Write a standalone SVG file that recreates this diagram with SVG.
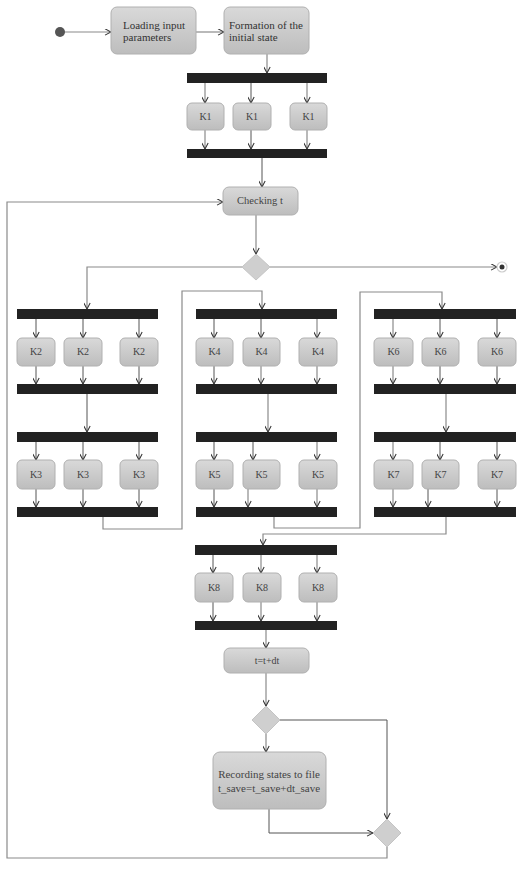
<svg xmlns="http://www.w3.org/2000/svg" width="525" height="872" viewBox="0 0 525 872">
<style>
.node{fill:url(#g);stroke:#b0b0b0;stroke-width:1}
.bar{fill:#222}
.t{font-family:"Liberation Serif","Times New Roman",serif;font-size:11px;fill:#333}
.k{font-family:"Liberation Serif","Times New Roman",serif;font-size:10px;fill:#444;text-anchor:middle}
.c{fill:none;stroke:#8a8a8a;stroke-width:1.2}
.cd{fill:none;stroke:#555;stroke-width:1}
.dia{fill:#cfcfcf;stroke:#c4c4c4}
</style>
<defs>
<linearGradient id="g" x1="0" y1="0" x2="0" y2="1">
<stop offset="0" stop-color="#d9d9d9"/>
<stop offset="1" stop-color="#bdbdbd"/>
</linearGradient>
<marker id="a" viewBox="0 0 10 10" refX="9.5" refY="5" markerWidth="7" markerHeight="7" markerUnits="userSpaceOnUse" orient="auto">
<path d="M1,0.5 L9.5,5 L1,9.5" fill="none" stroke="#333" stroke-width="1.5"/>
</marker>
</defs>
<rect width="525" height="872" fill="#fff"/>

<g id="connectors">
<path class="c" d="M60,32 H111" marker-end="url(#a)"/>
<path class="c" d="M196,32 H224" marker-end="url(#a)"/>
<path class="c" d="M267,54 V73" marker-end="url(#a)"/>
<path class="c" d="M205,83 V103" marker-end="url(#a)"/>
<path class="cd" d="M251,83 V103" marker-end="url(#a)"/>
<path class="c" d="M307,83 V103" marker-end="url(#a)"/>
<path class="c" d="M205,130 V149" marker-end="url(#a)"/>
<path class="cd" d="M251,130 V149" marker-end="url(#a)"/>
<path class="c" d="M307,130 V149" marker-end="url(#a)"/>
<path class="cd" d="M262,158 V187" marker-end="url(#a)"/>
<path class="c" d="M256,215 V254" marker-end="url(#a)"/>
<path class="c" d="M242,267 H87 V309" marker-end="url(#a)"/>
<path class="c" d="M270,267 H497" marker-end="url(#a)"/>
<!-- K2 -->
<path class="cd" d="M36,319 V338" marker-end="url(#a)"/>
<path class="cd" d="M83,319 V338" marker-end="url(#a)"/>
<path class="cd" d="M139,319 V338" marker-end="url(#a)"/>
<path class="cd" d="M36,366 V384" marker-end="url(#a)"/>
<path class="cd" d="M83,366 V384" marker-end="url(#a)"/>
<path class="cd" d="M139,366 V384" marker-end="url(#a)"/>
<path class="cd" d="M87,394 V432" marker-end="url(#a)"/>
<!-- K3 -->
<path class="cd" d="M36,442 V460" marker-end="url(#a)"/>
<path class="cd" d="M83,442 V460" marker-end="url(#a)"/>
<path class="cd" d="M139,442 V460" marker-end="url(#a)"/>
<path class="cd" d="M36,489 V507" marker-end="url(#a)"/>
<path class="cd" d="M83,489 V507" marker-end="url(#a)"/>
<path class="cd" d="M139,489 V507" marker-end="url(#a)"/>
<path class="c" d="M103,517 V529 H182 V291 H262 V309" marker-end="url(#a)"/>
<!-- K4 -->
<path class="cd" d="M214,319 V338" marker-end="url(#a)"/>
<path class="cd" d="M261,319 V338" marker-end="url(#a)"/>
<path class="c" d="M317,319 V338" marker-end="url(#a)"/>
<path class="cd" d="M214,366 V384" marker-end="url(#a)"/>
<path class="c" d="M261,366 V384" marker-end="url(#a)"/>
<path class="c" d="M317,366 V384" marker-end="url(#a)"/>
<path class="c" d="M268,394 V432" marker-end="url(#a)"/>
<!-- K5 -->
<path class="cd" d="M214,442 V460" marker-end="url(#a)"/>
<path class="cd" d="M253,442 V460" marker-end="url(#a)"/>
<path class="c" d="M317,442 V460" marker-end="url(#a)"/>
<path class="cd" d="M214,489 V507" marker-end="url(#a)"/>
<path class="c" d="M248,489 V507" marker-end="url(#a)"/>
<path class="c" d="M317,489 V507" marker-end="url(#a)"/>
<path class="c" d="M274,517 V528 H360 V292 H442 V309" marker-end="url(#a)"/>
<!-- K6 -->
<path class="c" d="M393,319 V338" marker-end="url(#a)"/>
<path class="cd" d="M440,319 V338" marker-end="url(#a)"/>
<path class="cd" d="M497,319 V338" marker-end="url(#a)"/>
<path class="c" d="M393,366 V384" marker-end="url(#a)"/>
<path class="cd" d="M440,366 V384" marker-end="url(#a)"/>
<path class="cd" d="M497,366 V384" marker-end="url(#a)"/>
<path class="c" d="M446,394 V432" marker-end="url(#a)"/>
<!-- K7 -->
<path class="c" d="M393,442 V460" marker-end="url(#a)"/>
<path class="cd" d="M440,442 V460" marker-end="url(#a)"/>
<path class="cd" d="M497,442 V460" marker-end="url(#a)"/>
<path class="c" d="M393,489 V507" marker-end="url(#a)"/>
<path class="cd" d="M428,489 V507" marker-end="url(#a)"/>
<path class="cd" d="M497,489 V507" marker-end="url(#a)"/>
<path class="c" d="M446,517 V534 H263 V545" marker-end="url(#a)"/>
<!-- K8 -->
<path class="cd" d="M213,555 V573" marker-end="url(#a)"/>
<path class="c" d="M261,555 V573" marker-end="url(#a)"/>
<path class="c" d="M317,555 V573" marker-end="url(#a)"/>
<path class="cd" d="M213,602 V621" marker-end="url(#a)"/>
<path class="c" d="M261,602 V621" marker-end="url(#a)"/>
<path class="c" d="M317,602 V621" marker-end="url(#a)"/>
<path class="c" d="M266,630 V648" marker-end="url(#a)"/>
<path class="c" d="M266,673 V706" marker-end="url(#a)"/>
<path class="c" d="M266,734 V752" marker-end="url(#a)"/>
<path class="cd" d="M280,720 H387 V819" marker-end="url(#a)"/>
<path class="cd" d="M269,809 V833 H373" marker-end="url(#a)"/>
<path class="c" d="M387,847 V858 H7 V202 H223" marker-end="url(#a)"/>
</g>

<g id="start"><circle cx="60" cy="32" r="5" fill="#555"/></g>
<g id="end"><circle cx="502" cy="267" r="5" fill="#fff" stroke="#ccc" stroke-width="1.2"/><circle cx="502" cy="267" r="2.5" fill="#333"/></g>

<g id="loading">
<rect class="node" x="111" y="7" width="85" height="47" rx="6"/>
<text class="t" x="123" y="29">Loading input</text>
<text class="t" x="123" y="41">parameters</text>
</g>
<g id="formation">
<rect class="node" x="224" y="7" width="85" height="47" rx="6"/>
<text class="t" x="229" y="29">Formation of the</text>
<text class="t" x="229" y="41">initial state</text>
</g>

<g id="fork-k1">
<rect class="bar" x="187" y="73" width="140" height="10"/>
<rect class="node" x="187" y="103" width="37" height="27" rx="5"/><text class="k" x="205.5" y="120">K1</text>
<rect class="node" x="233" y="103" width="38" height="27" rx="5"/><text class="k" x="252" y="120">K1</text>
<rect class="node" x="290" y="103" width="37" height="27" rx="5"/><text class="k" x="308.5" y="120">K1</text>
<rect class="bar" x="187" y="149" width="140" height="9"/>
</g>

<g id="checking">
<rect class="node" x="223" y="187" width="75" height="28" rx="6"/>
<text class="k" x="260" y="204" style="font-size:10.5px">Checking t</text>
</g>
<g id="decision1"><polygon class="dia" points="256,254 270,267 256,280 242,267"/></g>

<g id="fork-k2">
<rect class="bar" x="17" y="309" width="141" height="10"/>
<rect class="node" x="17" y="338" width="38" height="28" rx="5"/><text class="k" x="36" y="355">K2</text>
<rect class="node" x="64" y="338" width="38" height="28" rx="5"/><text class="k" x="83" y="355">K2</text>
<rect class="node" x="120" y="338" width="38" height="28" rx="5"/><text class="k" x="139" y="355">K2</text>
<rect class="bar" x="17" y="384" width="141" height="10"/>
</g>
<g id="fork-k3">
<rect class="bar" x="17" y="432" width="141" height="10"/>
<rect class="node" x="17" y="460" width="38" height="29" rx="5"/><text class="k" x="36" y="478">K3</text>
<rect class="node" x="64" y="460" width="38" height="29" rx="5"/><text class="k" x="83" y="478">K3</text>
<rect class="node" x="120" y="460" width="38" height="29" rx="5"/><text class="k" x="139" y="478">K3</text>
<rect class="bar" x="17" y="507" width="141" height="10"/>
</g>
<g id="fork-k4">
<rect class="bar" x="196" y="309" width="141" height="10"/>
<rect class="node" x="196" y="338" width="37" height="28" rx="5"/><text class="k" x="214.5" y="355">K4</text>
<rect class="node" x="243" y="338" width="37" height="28" rx="5"/><text class="k" x="261.5" y="355">K4</text>
<rect class="node" x="299" y="338" width="38" height="28" rx="5"/><text class="k" x="318" y="355">K4</text>
<rect class="bar" x="196" y="384" width="141" height="10"/>
</g>
<g id="fork-k5">
<rect class="bar" x="196" y="432" width="141" height="10"/>
<rect class="node" x="196" y="460" width="37" height="29" rx="5"/><text class="k" x="214.5" y="478">K5</text>
<rect class="node" x="243" y="460" width="37" height="29" rx="5"/><text class="k" x="261.5" y="478">K5</text>
<rect class="node" x="299" y="460" width="38" height="29" rx="5"/><text class="k" x="318" y="478">K5</text>
<rect class="bar" x="196" y="507" width="141" height="10"/>
</g>
<g id="fork-k6">
<rect class="bar" x="374" y="309" width="142" height="10"/>
<rect class="node" x="374" y="338" width="39" height="28" rx="5"/><text class="k" x="393.5" y="355">K6</text>
<rect class="node" x="422" y="338" width="37" height="28" rx="5"/><text class="k" x="440.5" y="355">K6</text>
<rect class="node" x="478" y="338" width="38" height="28" rx="5"/><text class="k" x="497" y="355">K6</text>
<rect class="bar" x="374" y="384" width="142" height="10"/>
</g>
<g id="fork-k7">
<rect class="bar" x="374" y="432" width="142" height="10"/>
<rect class="node" x="374" y="460" width="39" height="29" rx="5"/><text class="k" x="393.5" y="478">K7</text>
<rect class="node" x="422" y="460" width="37" height="29" rx="5"/><text class="k" x="440.5" y="478">K7</text>
<rect class="node" x="478" y="460" width="38" height="29" rx="5"/><text class="k" x="497" y="478">K7</text>
<rect class="bar" x="374" y="507" width="142" height="10"/>
</g>
<g id="fork-k8">
<rect class="bar" x="195" y="545" width="142" height="10"/>
<rect class="node" x="195" y="573" width="38" height="29" rx="5"/><text class="k" x="214" y="591">K8</text>
<rect class="node" x="243" y="573" width="38" height="29" rx="5"/><text class="k" x="262" y="591">K8</text>
<rect class="node" x="299" y="573" width="38" height="29" rx="5"/><text class="k" x="318" y="591">K8</text>
<rect class="bar" x="195" y="621" width="142" height="9"/>
</g>

<g id="increment">
<rect class="node" x="224" y="648" width="85" height="25" rx="6"/>
<text class="k" x="267" y="664">t=t+dt</text>
</g>
<g id="decision2"><polygon class="dia" points="266,706 280,720 266,734 252,720"/></g>
<g id="recording">
<rect class="node" x="213" y="752" width="113" height="57" rx="7"/>
<text class="k" x="269" y="778" style="font-size:11px">Recording states to file</text>
<text class="k" x="269" y="792" style="font-size:11px">t_save=t_save+dt_save</text>
</g>
<g id="merge"><polygon class="dia" points="387,819 401,833 387,847 373,833"/></g>
</svg>
